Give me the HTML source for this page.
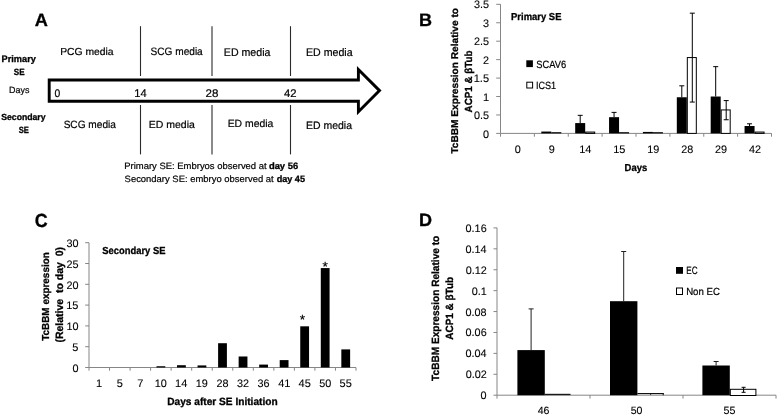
<!DOCTYPE html>
<html><head><meta charset="utf-8"><style>
html,body{margin:0;padding:0;background:#fff;overflow:hidden;}
svg{display:block;filter:blur(0.35px);}
text{font-family:"Liberation Sans",sans-serif;stroke:#000;white-space:pre;text-rendering:geometricPrecision;}
</style></head><body>
<svg width="778" height="416" viewBox="0 0 778 416">
<rect width="778" height="416" fill="#fff"/>
<text x="34.74" y="26.00" font-size="17.97" font-weight="bold" fill="#000" stroke-width="0.3" textLength="13.15" lengthAdjust="spacingAndGlyphs">A</text>
<text x="1.60" y="62.10" font-size="9.38" font-weight="bold" fill="#000" stroke-width="0.3" textLength="34.24" lengthAdjust="spacingAndGlyphs">Primary</text>
<text x="13.86" y="74.90" font-size="9.00" font-weight="bold" fill="#000" stroke-width="0.3" textLength="10.76" lengthAdjust="spacingAndGlyphs">SE</text>
<text x="9.09" y="93.40" font-size="8.99" fill="#000" stroke-width="0.2" textLength="20.31" lengthAdjust="spacingAndGlyphs">Days</text>
<text x="1.24" y="120.00" font-size="8.83" font-weight="bold" fill="#000" stroke-width="0.3" textLength="44.33" lengthAdjust="spacingAndGlyphs">Secondary</text>
<text x="18.77" y="132.50" font-size="9.00" font-weight="bold" fill="#000" stroke-width="0.3" textLength="10.12" lengthAdjust="spacingAndGlyphs">SE</text>
<text x="60.17" y="54.70" font-size="10.21" fill="#000" stroke-width="0.2" textLength="53.46" lengthAdjust="spacingAndGlyphs">PCG media</text>
<text x="150.55" y="54.80" font-size="10.76" fill="#000" stroke-width="0.2" textLength="52.19" lengthAdjust="spacingAndGlyphs">SCG media</text>
<text x="223.85" y="56.30" font-size="11.03" fill="#000" stroke-width="0.2" textLength="46.56" lengthAdjust="spacingAndGlyphs">ED media</text>
<text x="306.05" y="56.30" font-size="11.03" fill="#000" stroke-width="0.2" textLength="46.56" lengthAdjust="spacingAndGlyphs">ED media</text>
<text x="63.64" y="127.80" font-size="10.48" fill="#000" stroke-width="0.2" textLength="52.29" lengthAdjust="spacingAndGlyphs">SCG media</text>
<text x="148.76" y="127.70" font-size="10.34" fill="#000" stroke-width="0.2" textLength="46.05" lengthAdjust="spacingAndGlyphs">ED media</text>
<text x="227.67" y="127.20" font-size="10.48" fill="#000" stroke-width="0.2" textLength="45.64" lengthAdjust="spacingAndGlyphs">ED media</text>
<text x="306.06" y="129.00" font-size="10.76" fill="#000" stroke-width="0.2" textLength="45.95" lengthAdjust="spacingAndGlyphs">ED media</text>
<line x1="140.50" y1="26.20" x2="140.50" y2="76.00" stroke="#2a2a2a" stroke-width="1.1"/>
<line x1="140.50" y1="105.00" x2="140.50" y2="154.40" stroke="#2a2a2a" stroke-width="1.1"/>
<line x1="212.00" y1="26.20" x2="212.00" y2="76.00" stroke="#2a2a2a" stroke-width="1.1"/>
<line x1="212.00" y1="105.00" x2="212.00" y2="154.40" stroke="#2a2a2a" stroke-width="1.1"/>
<line x1="290.50" y1="26.20" x2="290.50" y2="76.00" stroke="#2a2a2a" stroke-width="1.1"/>
<line x1="290.50" y1="105.00" x2="290.50" y2="154.40" stroke="#2a2a2a" stroke-width="1.1"/>
<polygon points="49.2,80 358.4,80 358.4,69.5 379.5,90.6 358.4,111.7 358.4,101.3 49.2,101.3" fill="none" stroke="#000" stroke-width="2.9" stroke-linejoin="miter"/>
<text x="54.49" y="96.80" font-size="11.00" fill="#000" stroke-width="0.2" textLength="5.74" lengthAdjust="spacingAndGlyphs">0</text>
<text x="134.26" y="96.80" font-size="11.16" fill="#000" stroke-width="0.2" textLength="12.40" lengthAdjust="spacingAndGlyphs">14</text>
<text x="205.52" y="96.80" font-size="11.00" fill="#000" stroke-width="0.2" textLength="12.87" lengthAdjust="spacingAndGlyphs">28</text>
<text x="284.02" y="96.80" font-size="11.00" fill="#000" stroke-width="0.2" textLength="12.57" lengthAdjust="spacingAndGlyphs">42</text>
<text x="124.24" y="168.70" font-size="9.24" fill="#000" stroke-width="0.2" textLength="142.41" lengthAdjust="spacingAndGlyphs">Primary SE: Embryos observed at</text>
<text x="268.92" y="168.70" font-size="9.24" font-weight="bold" fill="#000" stroke-width="0.3" textLength="29.24" lengthAdjust="spacingAndGlyphs">day 56</text>
<text x="124.58" y="181.50" font-size="9.24" fill="#000" stroke-width="0.2" textLength="149.09" lengthAdjust="spacingAndGlyphs">Secondary SE: embryo observed at</text>
<text x="276.64" y="181.50" font-size="9.24" font-weight="bold" fill="#000" stroke-width="0.3" textLength="28.32" lengthAdjust="spacingAndGlyphs">day 45</text>
<text x="418.93" y="25.60" font-size="17.97" font-weight="bold" fill="#000" stroke-width="0.3" textLength="13.02" lengthAdjust="spacingAndGlyphs">B</text>
<line x1="500.50" y1="4.20" x2="500.50" y2="133.40" stroke="#868686" stroke-width="1"/>
<line x1="496.20" y1="133.40" x2="500.50" y2="133.40" stroke="#868686" stroke-width="1"/>
<line x1="496.20" y1="114.96" x2="500.50" y2="114.96" stroke="#868686" stroke-width="1"/>
<line x1="496.20" y1="96.52" x2="500.50" y2="96.52" stroke="#868686" stroke-width="1"/>
<line x1="496.20" y1="78.08" x2="500.50" y2="78.08" stroke="#868686" stroke-width="1"/>
<line x1="496.20" y1="59.64" x2="500.50" y2="59.64" stroke="#868686" stroke-width="1"/>
<line x1="496.20" y1="41.20" x2="500.50" y2="41.20" stroke="#868686" stroke-width="1"/>
<line x1="496.20" y1="22.76" x2="500.50" y2="22.76" stroke="#868686" stroke-width="1"/>
<line x1="496.20" y1="4.32" x2="500.50" y2="4.32" stroke="#868686" stroke-width="1"/>
<text x="483.01" y="137.50" font-size="10.86" fill="#000" stroke-width="0.1" textLength="6.04" lengthAdjust="spacingAndGlyphs">0</text>
<text x="473.94" y="119.06" font-size="10.86" fill="#000" stroke-width="0.1" textLength="15.09" lengthAdjust="spacingAndGlyphs">0.5</text>
<text x="483.04" y="100.62" font-size="11.01" fill="#000" stroke-width="0.1" textLength="6.13" lengthAdjust="spacingAndGlyphs">1</text>
<text x="473.73" y="82.18" font-size="11.01" fill="#000" stroke-width="0.1" textLength="15.31" lengthAdjust="spacingAndGlyphs">1.5</text>
<text x="483.12" y="63.74" font-size="10.86" fill="#000" stroke-width="0.1" textLength="6.04" lengthAdjust="spacingAndGlyphs">2</text>
<text x="473.94" y="45.30" font-size="10.86" fill="#000" stroke-width="0.1" textLength="15.09" lengthAdjust="spacingAndGlyphs">2.5</text>
<text x="483.06" y="26.86" font-size="10.86" fill="#000" stroke-width="0.1" textLength="6.04" lengthAdjust="spacingAndGlyphs">3</text>
<text x="473.94" y="8.42" font-size="10.86" fill="#000" stroke-width="0.1" textLength="15.09" lengthAdjust="spacingAndGlyphs">3.5</text>
<line x1="500.50" y1="133.40" x2="771.50" y2="133.40" stroke="#868686" stroke-width="1"/>
<line x1="500.50" y1="133.40" x2="500.50" y2="136.70" stroke="#868686" stroke-width="1"/>
<line x1="534.38" y1="133.40" x2="534.38" y2="136.70" stroke="#868686" stroke-width="1"/>
<line x1="568.25" y1="133.40" x2="568.25" y2="136.70" stroke="#868686" stroke-width="1"/>
<line x1="602.12" y1="133.40" x2="602.12" y2="136.70" stroke="#868686" stroke-width="1"/>
<line x1="636.00" y1="133.40" x2="636.00" y2="136.70" stroke="#868686" stroke-width="1"/>
<line x1="669.88" y1="133.40" x2="669.88" y2="136.70" stroke="#868686" stroke-width="1"/>
<line x1="703.75" y1="133.40" x2="703.75" y2="136.70" stroke="#868686" stroke-width="1"/>
<line x1="737.62" y1="133.40" x2="737.62" y2="136.70" stroke="#868686" stroke-width="1"/>
<line x1="771.50" y1="133.40" x2="771.50" y2="136.70" stroke="#868686" stroke-width="1"/>
<text x="514.82" y="152.90" font-size="10.86" fill="#000" stroke-width="0.1" textLength="6.04" lengthAdjust="spacingAndGlyphs">0</text>
<rect x="541.31" y="131.56" width="10.00" height="1.84" fill="#000"/>
<rect x="551.31" y="132.20" width="10.00" height="1.20" fill="#000"/>
<text x="548.70" y="152.90" font-size="10.86" fill="#000" stroke-width="0.1" textLength="6.04" lengthAdjust="spacingAndGlyphs">9</text>
<line x1="580.19" y1="123.07" x2="580.19" y2="115.33" stroke="#000" stroke-width="1"/>
<line x1="577.69" y1="115.33" x2="582.69" y2="115.33" stroke="#000" stroke-width="1"/>
<rect x="575.19" y="123.07" width="10.00" height="10.33" fill="#000"/>
<rect x="585.69" y="132.06" width="9.00" height="1.34" fill="#fff" stroke="#000" stroke-width="1"/>
<text x="579.23" y="152.90" font-size="11.01" fill="#000" stroke-width="0.1" textLength="12.25" lengthAdjust="spacingAndGlyphs">14</text>
<line x1="614.06" y1="117.17" x2="614.06" y2="112.38" stroke="#000" stroke-width="1"/>
<line x1="611.56" y1="112.38" x2="616.56" y2="112.38" stroke="#000" stroke-width="1"/>
<rect x="609.06" y="117.17" width="10.00" height="16.23" fill="#000"/>
<rect x="619.06" y="132.20" width="10.00" height="1.20" fill="#000"/>
<text x="613.16" y="152.90" font-size="11.01" fill="#000" stroke-width="0.1" textLength="12.25" lengthAdjust="spacingAndGlyphs">15</text>
<rect x="642.94" y="131.92" width="10.00" height="1.48" fill="#000"/>
<rect x="652.94" y="132.20" width="10.00" height="1.20" fill="#000"/>
<text x="647.15" y="152.90" font-size="10.86" fill="#000" stroke-width="0.1" textLength="12.08" lengthAdjust="spacingAndGlyphs">19</text>
<line x1="681.81" y1="97.26" x2="681.81" y2="85.82" stroke="#000" stroke-width="1"/>
<line x1="679.31" y1="85.82" x2="684.31" y2="85.82" stroke="#000" stroke-width="1"/>
<rect x="676.81" y="97.26" width="10.00" height="36.14" fill="#000"/>
<rect x="687.31" y="57.56" width="9.00" height="75.84" fill="#fff" stroke="#000" stroke-width="1"/>
<line x1="692.31" y1="102.05" x2="692.31" y2="13.17" stroke="#000" stroke-width="1"/>
<line x1="689.81" y1="13.17" x2="694.81" y2="13.17" stroke="#000" stroke-width="1"/>
<line x1="689.81" y1="102.05" x2="694.81" y2="102.05" stroke="#000" stroke-width="1"/>
<text x="681.13" y="152.90" font-size="10.86" fill="#000" stroke-width="0.1" textLength="12.08" lengthAdjust="spacingAndGlyphs">28</text>
<line x1="715.69" y1="96.52" x2="715.69" y2="66.65" stroke="#000" stroke-width="1"/>
<line x1="713.19" y1="66.65" x2="718.19" y2="66.65" stroke="#000" stroke-width="1"/>
<rect x="710.69" y="96.52" width="10.00" height="36.88" fill="#000"/>
<rect x="721.19" y="109.93" width="9.00" height="23.47" fill="#fff" stroke="#000" stroke-width="1"/>
<line x1="726.19" y1="119.75" x2="726.19" y2="100.58" stroke="#000" stroke-width="1"/>
<line x1="723.69" y1="100.58" x2="728.69" y2="100.58" stroke="#000" stroke-width="1"/>
<line x1="723.69" y1="119.75" x2="728.69" y2="119.75" stroke="#000" stroke-width="1"/>
<text x="715.03" y="152.90" font-size="10.86" fill="#000" stroke-width="0.1" textLength="12.08" lengthAdjust="spacingAndGlyphs">29</text>
<line x1="749.56" y1="126.02" x2="749.56" y2="123.81" stroke="#000" stroke-width="1"/>
<line x1="747.06" y1="123.81" x2="752.06" y2="123.81" stroke="#000" stroke-width="1"/>
<rect x="744.56" y="126.02" width="10.00" height="7.38" fill="#000"/>
<rect x="755.06" y="132.06" width="9.00" height="1.34" fill="#fff" stroke="#000" stroke-width="1"/>
<text x="749.07" y="152.90" font-size="10.86" fill="#000" stroke-width="0.1" textLength="12.08" lengthAdjust="spacingAndGlyphs">42</text>
<text x="624.59" y="170.90" font-size="10.14" font-weight="bold" fill="#000" stroke-width="0.3" textLength="22.60" lengthAdjust="spacingAndGlyphs">Days</text>
<text x="511.09" y="19.60" font-size="10.07" font-weight="bold" fill="#000" stroke-width="0.3" textLength="50.36" lengthAdjust="spacingAndGlyphs">Primary SE</text>
<rect x="526.30" y="60.30" width="6.60" height="6.80" fill="#000"/>
<text x="536.28" y="67.70" font-size="10.57" fill="#000" stroke-width="0.2" textLength="29.94" lengthAdjust="spacingAndGlyphs">SCAV6</text>
<rect x="526.80" y="82.20" width="5.80" height="5.80" fill="#fff" stroke="#000" stroke-width="1"/>
<text x="535.88" y="89.20" font-size="10.43" fill="#000" stroke-width="0.2" textLength="20.20" lengthAdjust="spacingAndGlyphs">ICS1</text>
<text transform="translate(457.80,153.50) rotate(-90)" x="-0.10" y="0.00" font-size="9.88" font-weight="bold" fill="#000" stroke-width="0.3" textLength="145.60" lengthAdjust="spacingAndGlyphs">TcBBM Expression Relative to</text>
<text transform="translate(472.30,112.20) rotate(-90)" x="-0.25" y="0.00" font-size="10.32" font-weight="bold" fill="#000" stroke-width="0.3" textLength="61.93" lengthAdjust="spacingAndGlyphs">ACP1 &amp; βTub</text>
<text x="34.69" y="226.60" font-size="19.00" font-weight="bold" fill="#000" stroke-width="0.3" textLength="12.90" lengthAdjust="spacingAndGlyphs">C</text>
<line x1="89.00" y1="242.70" x2="89.00" y2="367.50" stroke="#868686" stroke-width="1"/>
<line x1="85.20" y1="367.50" x2="89.00" y2="367.50" stroke="#868686" stroke-width="1"/>
<text x="72.41" y="371.70" font-size="10.86" fill="#000" stroke-width="0.1" textLength="6.04" lengthAdjust="spacingAndGlyphs">0</text>
<line x1="85.20" y1="346.70" x2="89.00" y2="346.70" stroke="#868686" stroke-width="1"/>
<text x="72.33" y="350.90" font-size="11.01" fill="#000" stroke-width="0.1" textLength="6.13" lengthAdjust="spacingAndGlyphs">5</text>
<line x1="85.20" y1="325.90" x2="89.00" y2="325.90" stroke="#868686" stroke-width="1"/>
<text x="66.38" y="330.10" font-size="10.86" fill="#000" stroke-width="0.1" textLength="12.08" lengthAdjust="spacingAndGlyphs">10</text>
<line x1="85.20" y1="305.10" x2="89.00" y2="305.10" stroke="#868686" stroke-width="1"/>
<text x="66.21" y="309.30" font-size="11.01" fill="#000" stroke-width="0.1" textLength="12.25" lengthAdjust="spacingAndGlyphs">15</text>
<line x1="85.20" y1="284.30" x2="89.00" y2="284.30" stroke="#868686" stroke-width="1"/>
<text x="66.38" y="288.50" font-size="10.86" fill="#000" stroke-width="0.1" textLength="12.08" lengthAdjust="spacingAndGlyphs">20</text>
<line x1="85.20" y1="263.50" x2="89.00" y2="263.50" stroke="#868686" stroke-width="1"/>
<text x="66.38" y="267.70" font-size="10.86" fill="#000" stroke-width="0.1" textLength="12.08" lengthAdjust="spacingAndGlyphs">25</text>
<line x1="85.20" y1="242.70" x2="89.00" y2="242.70" stroke="#868686" stroke-width="1"/>
<text x="66.38" y="246.90" font-size="10.86" fill="#000" stroke-width="0.1" textLength="12.08" lengthAdjust="spacingAndGlyphs">30</text>
<line x1="89.00" y1="367.50" x2="356.00" y2="367.50" stroke="#868686" stroke-width="1"/>
<line x1="89.00" y1="367.50" x2="89.00" y2="370.70" stroke="#868686" stroke-width="1"/>
<line x1="109.54" y1="367.50" x2="109.54" y2="370.70" stroke="#868686" stroke-width="1"/>
<line x1="130.08" y1="367.50" x2="130.08" y2="370.70" stroke="#868686" stroke-width="1"/>
<line x1="150.62" y1="367.50" x2="150.62" y2="370.70" stroke="#868686" stroke-width="1"/>
<line x1="171.15" y1="367.50" x2="171.15" y2="370.70" stroke="#868686" stroke-width="1"/>
<line x1="191.69" y1="367.50" x2="191.69" y2="370.70" stroke="#868686" stroke-width="1"/>
<line x1="212.23" y1="367.50" x2="212.23" y2="370.70" stroke="#868686" stroke-width="1"/>
<line x1="232.77" y1="367.50" x2="232.77" y2="370.70" stroke="#868686" stroke-width="1"/>
<line x1="253.31" y1="367.50" x2="253.31" y2="370.70" stroke="#868686" stroke-width="1"/>
<line x1="273.85" y1="367.50" x2="273.85" y2="370.70" stroke="#868686" stroke-width="1"/>
<line x1="294.38" y1="367.50" x2="294.38" y2="370.70" stroke="#868686" stroke-width="1"/>
<line x1="314.92" y1="367.50" x2="314.92" y2="370.70" stroke="#868686" stroke-width="1"/>
<line x1="335.46" y1="367.50" x2="335.46" y2="370.70" stroke="#868686" stroke-width="1"/>
<line x1="356.00" y1="367.50" x2="356.00" y2="370.70" stroke="#868686" stroke-width="1"/>
<text x="96.08" y="387.20" font-size="11.01" fill="#000" stroke-width="0.1" textLength="6.13" lengthAdjust="spacingAndGlyphs">1</text>
<text x="116.75" y="387.20" font-size="11.01" fill="#000" stroke-width="0.1" textLength="6.13" lengthAdjust="spacingAndGlyphs">5</text>
<text x="137.29" y="387.20" font-size="11.01" fill="#000" stroke-width="0.1" textLength="6.13" lengthAdjust="spacingAndGlyphs">7</text>
<rect x="156.48" y="366.25" width="8.80" height="1.25" fill="#000"/>
<text x="154.67" y="387.20" font-size="10.86" fill="#000" stroke-width="0.1" textLength="12.08" lengthAdjust="spacingAndGlyphs">10</text>
<rect x="177.02" y="365.21" width="8.80" height="2.29" fill="#000"/>
<text x="175.06" y="387.20" font-size="11.01" fill="#000" stroke-width="0.1" textLength="12.25" lengthAdjust="spacingAndGlyphs">14</text>
<rect x="197.56" y="365.42" width="8.80" height="2.08" fill="#000"/>
<text x="195.77" y="387.20" font-size="10.86" fill="#000" stroke-width="0.1" textLength="12.08" lengthAdjust="spacingAndGlyphs">19</text>
<rect x="218.10" y="343.21" width="8.80" height="24.29" fill="#000"/>
<text x="216.42" y="387.20" font-size="10.86" fill="#000" stroke-width="0.1" textLength="12.08" lengthAdjust="spacingAndGlyphs">28</text>
<rect x="238.64" y="356.48" width="8.80" height="11.02" fill="#000"/>
<text x="237.07" y="387.20" font-size="10.86" fill="#000" stroke-width="0.1" textLength="12.08" lengthAdjust="spacingAndGlyphs">32</text>
<rect x="259.18" y="364.59" width="8.80" height="2.91" fill="#000"/>
<text x="257.58" y="387.20" font-size="10.86" fill="#000" stroke-width="0.1" textLength="12.08" lengthAdjust="spacingAndGlyphs">36</text>
<rect x="279.72" y="360.10" width="8.80" height="7.40" fill="#000"/>
<text x="278.14" y="387.20" font-size="11.01" fill="#000" stroke-width="0.1" textLength="12.25" lengthAdjust="spacingAndGlyphs">41</text>
<rect x="300.25" y="326.32" width="8.80" height="41.18" fill="#000"/>
<text x="298.62" y="387.20" font-size="11.01" fill="#000" stroke-width="0.1" textLength="12.25" lengthAdjust="spacingAndGlyphs">45</text>
<rect x="320.79" y="268.08" width="8.80" height="99.42" fill="#000"/>
<text x="319.17" y="387.20" font-size="10.86" fill="#000" stroke-width="0.1" textLength="12.08" lengthAdjust="spacingAndGlyphs">50</text>
<rect x="341.33" y="349.40" width="8.80" height="18.10" fill="#000"/>
<text x="339.62" y="387.20" font-size="11.01" fill="#000" stroke-width="0.1" textLength="12.25" lengthAdjust="spacingAndGlyphs">55</text>
<text x="299.83" y="324.37" font-size="13.14" fill="#000" stroke-width="0.2" textLength="5.34" lengthAdjust="spacingAndGlyphs">*</text>
<text x="322.63" y="270.97" font-size="13.14" fill="#000" stroke-width="0.2" textLength="5.34" lengthAdjust="spacingAndGlyphs">*</text>
<text x="167.24" y="405.30" font-size="10.48" font-weight="bold" fill="#000" stroke-width="0.3" textLength="110.39" lengthAdjust="spacingAndGlyphs">Days after SE Initiation</text>
<text x="102.32" y="254.40" font-size="10.21" font-weight="bold" fill="#000" stroke-width="0.3" textLength="63.11" lengthAdjust="spacingAndGlyphs">Secondary SE</text>
<text transform="translate(49.00,340.70) rotate(-90)" x="-0.10" y="0.00" font-size="10.17" font-weight="bold" fill="#000" stroke-width="0.3" textLength="88.58" lengthAdjust="spacingAndGlyphs">TcBBM expression</text>
<text transform="translate(63.00,342.10) rotate(-90)" x="-0.52" y="0.00" font-size="10.61" font-weight="bold" fill="#000" stroke-width="0.3" textLength="95.64" lengthAdjust="spacingAndGlyphs">(Relative  to day  0)</text>
<text x="419.13" y="226.30" font-size="17.83" font-weight="bold" fill="#000" stroke-width="0.3" textLength="13.03" lengthAdjust="spacingAndGlyphs">D</text>
<line x1="497.00" y1="227.80" x2="497.00" y2="395.20" stroke="#868686" stroke-width="1"/>
<line x1="493.50" y1="395.20" x2="497.00" y2="395.20" stroke="#868686" stroke-width="1"/>
<text x="480.61" y="399.20" font-size="10.86" fill="#000" stroke-width="0.1" textLength="6.04" lengthAdjust="spacingAndGlyphs">0</text>
<line x1="493.50" y1="374.29" x2="497.00" y2="374.29" stroke="#868686" stroke-width="1"/>
<text x="465.63" y="378.29" font-size="10.86" fill="#000" stroke-width="0.1" textLength="21.13" lengthAdjust="spacingAndGlyphs">0.02</text>
<line x1="493.50" y1="353.38" x2="497.00" y2="353.38" stroke="#868686" stroke-width="1"/>
<text x="465.41" y="357.38" font-size="10.86" fill="#000" stroke-width="0.1" textLength="21.13" lengthAdjust="spacingAndGlyphs">0.04</text>
<line x1="493.50" y1="332.47" x2="497.00" y2="332.47" stroke="#868686" stroke-width="1"/>
<text x="465.57" y="336.47" font-size="10.86" fill="#000" stroke-width="0.1" textLength="21.13" lengthAdjust="spacingAndGlyphs">0.06</text>
<line x1="493.50" y1="311.56" x2="497.00" y2="311.56" stroke="#868686" stroke-width="1"/>
<text x="465.52" y="315.56" font-size="10.86" fill="#000" stroke-width="0.1" textLength="21.13" lengthAdjust="spacingAndGlyphs">0.08</text>
<line x1="493.50" y1="290.65" x2="497.00" y2="290.65" stroke="#868686" stroke-width="1"/>
<text x="471.65" y="294.65" font-size="10.86" fill="#000" stroke-width="0.1" textLength="15.09" lengthAdjust="spacingAndGlyphs">0.1</text>
<line x1="493.50" y1="269.74" x2="497.00" y2="269.74" stroke="#868686" stroke-width="1"/>
<text x="465.63" y="273.74" font-size="10.86" fill="#000" stroke-width="0.1" textLength="21.13" lengthAdjust="spacingAndGlyphs">0.12</text>
<line x1="493.50" y1="248.83" x2="497.00" y2="248.83" stroke="#868686" stroke-width="1"/>
<text x="465.41" y="252.83" font-size="10.86" fill="#000" stroke-width="0.1" textLength="21.13" lengthAdjust="spacingAndGlyphs">0.14</text>
<line x1="493.50" y1="227.92" x2="497.00" y2="227.92" stroke="#868686" stroke-width="1"/>
<text x="465.57" y="231.92" font-size="10.86" fill="#000" stroke-width="0.1" textLength="21.13" lengthAdjust="spacingAndGlyphs">0.16</text>
<line x1="497.00" y1="395.20" x2="776.00" y2="395.20" stroke="#868686" stroke-width="1"/>
<line x1="497.00" y1="395.20" x2="497.00" y2="398.60" stroke="#868686" stroke-width="1"/>
<line x1="590.00" y1="395.20" x2="590.00" y2="398.60" stroke="#868686" stroke-width="1"/>
<line x1="683.00" y1="395.20" x2="683.00" y2="398.60" stroke="#868686" stroke-width="1"/>
<line x1="776.00" y1="395.20" x2="776.00" y2="398.60" stroke="#868686" stroke-width="1"/>
<line x1="531.10" y1="350.10" x2="531.10" y2="308.90" stroke="#222" stroke-width="1"/>
<line x1="528.60" y1="308.90" x2="533.60" y2="308.90" stroke="#222" stroke-width="1"/>
<rect x="517.40" y="350.10" width="27.40" height="45.10" fill="#000"/>
<text x="537.74" y="414.40" font-size="10.57" fill="#000" stroke-width="0.1" textLength="11.76" lengthAdjust="spacingAndGlyphs">46</text>
<line x1="623.70" y1="301.20" x2="623.70" y2="251.50" stroke="#222" stroke-width="1"/>
<line x1="621.20" y1="251.50" x2="626.20" y2="251.50" stroke="#222" stroke-width="1"/>
<rect x="610.00" y="301.20" width="27.40" height="94.00" fill="#000"/>
<text x="630.63" y="414.40" font-size="10.57" fill="#000" stroke-width="0.1" textLength="11.76" lengthAdjust="spacingAndGlyphs">50</text>
<line x1="716.10" y1="365.50" x2="716.10" y2="361.50" stroke="#222" stroke-width="1"/>
<line x1="713.60" y1="361.50" x2="718.60" y2="361.50" stroke="#222" stroke-width="1"/>
<rect x="702.40" y="365.50" width="27.40" height="29.70" fill="#000"/>
<rect x="730.30" y="389.30" width="25.60" height="6.20" fill="#fff" stroke="#000" stroke-width="1"/>
<text x="723.55" y="414.40" font-size="10.72" fill="#000" stroke-width="0.1" textLength="11.93" lengthAdjust="spacingAndGlyphs">55</text>
<line x1="743.60" y1="392.30" x2="743.60" y2="387.30" stroke="#000" stroke-width="1"/>
<line x1="741.60" y1="387.30" x2="745.60" y2="387.30" stroke="#000" stroke-width="1"/>
<line x1="741.60" y1="392.30" x2="745.60" y2="392.30" stroke="#000" stroke-width="1"/>
<rect x="544.80" y="393.80" width="25.70" height="1.30" fill="#1a1a1a"/>
<rect x="637.40" y="393.00" width="26.30" height="1.10" fill="#111"/>
<rect x="662.70" y="393.00" width="1.00" height="2.30" fill="#111"/>
<rect x="650.10" y="393.00" width="1.00" height="1.80" fill="#111"/>
<rect x="676.00" y="267.00" width="7.00" height="6.80" fill="#000"/>
<text x="686.25" y="273.70" font-size="10.71" fill="#000" stroke-width="0.2" textLength="11.31" lengthAdjust="spacingAndGlyphs">EC</text>
<rect x="676.50" y="288.00" width="6.00" height="6.50" fill="#fff" stroke="#000" stroke-width="1"/>
<text x="686.13" y="295.40" font-size="10.29" fill="#000" stroke-width="0.2" textLength="33.77" lengthAdjust="spacingAndGlyphs">Non EC</text>
<text transform="translate(439.40,380.80) rotate(-90)" x="-0.10" y="0.00" font-size="10.47" font-weight="bold" fill="#000" stroke-width="0.3" textLength="145.10" lengthAdjust="spacingAndGlyphs">TcBBM Expression Relative to</text>
<text transform="translate(453.10,339.40) rotate(-90)" x="-0.25" y="0.00" font-size="10.47" font-weight="bold" fill="#000" stroke-width="0.3" textLength="62.74" lengthAdjust="spacingAndGlyphs">ACP1 &amp; βTub</text>
</svg></body></html>
